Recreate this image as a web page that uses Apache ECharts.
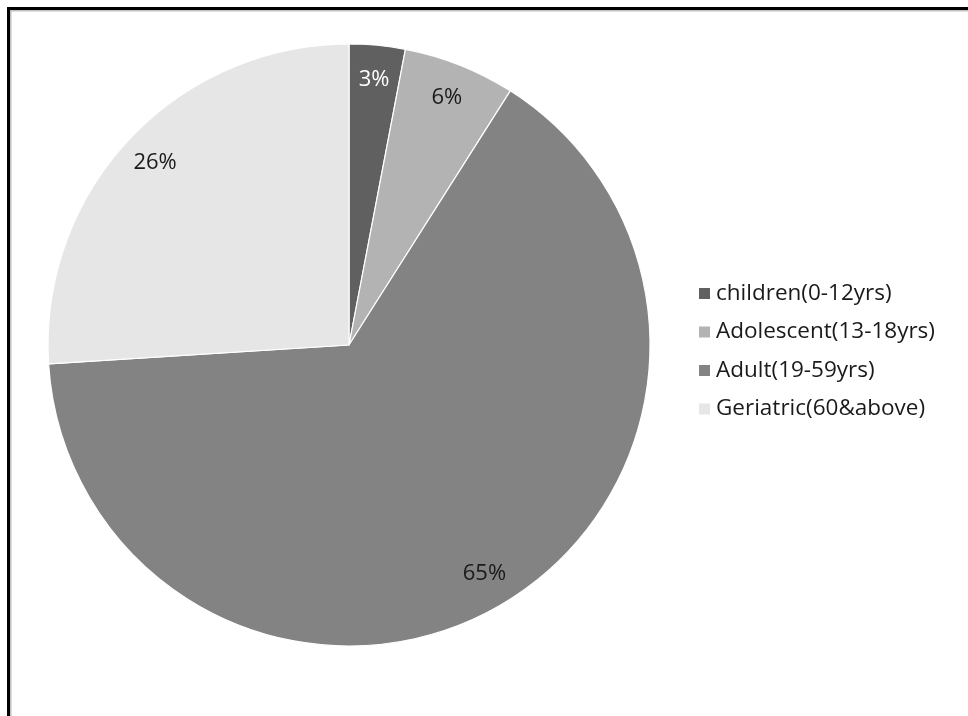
<!DOCTYPE html>
<html>
<head>
<meta charset="utf-8">
<script src="https://cdn.jsdelivr.net/npm/echarts@6/dist/echarts.min.js"></script>
<style>
  html, body { margin: 0; padding: 0; background: #fff; }
  #chart { width: 968px; height: 716px; }
</style>
</head>
<body>
<div id="chart"></div>
<script>
// Age groups and their share (%) of the sample
const categories = ['children(0-12yrs)', 'Adolescent(13-18yrs)', 'Adult(19-59yrs)', 'Geriatric(60&above)'];
const shares = [3, 6, 65, 26];
const sliceColors = ['#606060', '#b3b3b3', '#838383', '#e6e6e6'];
const labelColors = ['#ffffff', '#1a1a1a', '#1a1a1a', '#1a1a1a'];

const FONT = '"Open Sans", "Noto Sans", sans-serif';

const chart = echarts.init(document.getElementById('chart'), null, { renderer: 'canvas' });

const center = [349, 345];
const outerR = 301;

chart.setOption({
  animation: false,
  backgroundColor: '#ffffff',
  graphic: [
    // frame: grey inner shadow then black rule on the top and left edges
    { type: 'line', shape: { x1: 10.5, y1: 10, x2: 10.5, y2: 716 }, style: { stroke: '#c0c0c0', lineWidth: 2 } },
    { type: 'line', shape: { x1: 10, y1: 10.5, x2: 968, y2: 10.5 }, style: { stroke: '#c0c0c0', lineWidth: 2 } },
    { type: 'line', shape: { x1: 8.5, y1: 7, x2: 8.5, y2: 716 }, style: { stroke: '#000', lineWidth: 3 } },
    { type: 'line', shape: { x1: 7, y1: 8.5, x2: 968, y2: 8.5 }, style: { stroke: '#000', lineWidth: 3 } }
  ],
  legend: {
    orient: 'vertical',
    left: 697,
    top: 282,
    padding: 0,
    icon: 'rect',
    itemWidth: 13,
    itemHeight: 13,
    itemGap: 15.5,
    data: categories,
    textStyle: { fontFamily: FONT, fontSize: 22.5, lineHeight: 23, color: '#1a1a1a' }
  },
  series: [
    {
      type: 'pie',
      center: center,
      radius: [0, outerR],
      startAngle: 90,
      clockwise: true,
      silent: true,
      label: { show: false },
      labelLine: { show: false },
      itemStyle: { borderColor: '#ffffff', borderWidth: 1.2 },
      data: categories.map((name, i) => ({ name, value: shares[i], itemStyle: { color: sliceColors[i] } }))
    },
    {
      // transparent ring that only carries the percentage labels
      type: 'pie',
      center: center,
      radius: [225, outerR],
      startAngle: 90,
      clockwise: true,
      silent: true,
      legendHoverLink: false,
      itemStyle: { color: 'rgba(0,0,0,0)' },
      labelLine: { show: false },
      data: categories.map((name, i) => ({
        name,
        value: shares[i],
        label: {
          show: true,
          position: 'inside',
          formatter: shares[i] + '%',
          fontFamily: FONT,
          fontSize: 22,
          color: labelColors[i]
        }
      }))
    }
  ]
});
</script>
</body>
</html>
